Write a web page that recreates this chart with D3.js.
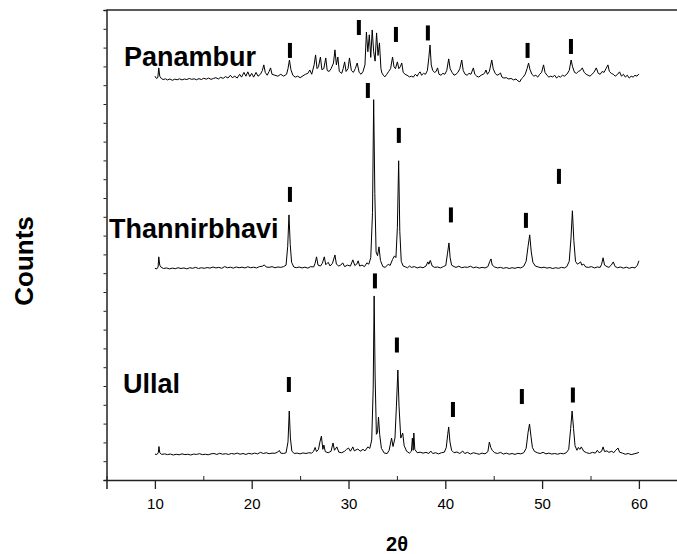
<!DOCTYPE html>
<html>
<head>
<meta charset="utf-8">
<script src="https://cdn.jsdelivr.net/npm/d3@7"></script>
<style>
html,body{margin:0;padding:0;background:#fff;}
svg{display:block;}
text{font-family:"Liberation Sans",Arial,Helvetica,sans-serif;}
</style>
</head>
<body>
<svg id="chart" width="677" height="554"></svg>
<script>
// ---------------- DATA ----------------
const seriesNames = ["Ullal", "Thannirbhavi", "Panambur"];
const seriesOffsets = [133, 1123, 2128];   // vertical stacking offsets (counts)

const ullal = [[10.0,5],[10.2,2],[10.35,12],[10.42,45],[10.5,12],[10.7,3],[11.0,6],[11.3,2],[11.6,5],[11.9,0],[12.2,4],[12.5,1],[12.8,6],[13.1,2],[13.4,4],[13.7,0],[14.0,5],[14.3,3],[14.6,7],[14.9,2],[15.2,4],[15.5,1],[15.8,6],[16.1,8],[16.4,3],[16.7,9],[17.0,4],[17.3,7],[17.6,3],[17.9,8],[18.2,5],[18.5,10],[18.8,4],[19.1,8],[19.4,3],[19.7,9],[20.0,5],[20.3,10],[20.6,6],[20.9,14],[21.2,8],[21.5,12],[21.8,7],[22.1,10],[22.4,9],[22.7,16],[22.85,24],[23.0,10],[23.3,8],[23.55,12],[23.75,70],[23.88,234],[24.0,90],[24.15,20],[24.4,8],[24.7,10],[25.0,6],[25.3,11],[25.6,8],[25.9,12],[26.2,10],[26.4,20],[26.55,40],[26.7,18],[26.9,30],[27.05,70],[27.2,100],[27.35,30],[27.46,53],[27.6,18],[27.9,12],[28.2,20],[28.4,64],[28.55,25],[28.8,43],[29.0,15],[29.3,12],[29.6,20],[29.8,30],[30.0,37],[30.2,20],[30.45,43],[30.6,22],[30.97,32],[31.2,20],[31.5,30],[31.7,22],[32.0,43],[32.2,35],[32.4,80],[32.55,350],[32.65,846],[32.75,420],[32.88,110],[33.0,120],[33.1,202],[33.22,110],[33.4,35],[33.7,10],[34.0,8],[34.2,25],[34.45,90],[34.6,45],[34.8,90],[34.95,260],[35.1,452],[35.22,260],[35.4,90],[35.6,117],[35.75,50],[36.0,20],[36.3,10],[36.5,20],[36.6,90],[36.68,25],[36.75,117],[36.85,30],[37.1,12],[37.4,15],[37.7,10],[38.0,14],[38.3,8],[38.5,21],[38.7,8],[39.0,12],[39.3,6],[39.6,12],[39.9,15],[40.1,40],[40.25,110],[40.35,149],[40.48,70],[40.65,25],[40.9,12],[41.2,16],[41.5,8],[41.8,21],[42.0,8],[42.3,14],[42.6,5],[42.9,12],[43.2,8],[43.5,4],[43.8,10],[44.1,6],[44.4,18],[44.55,69],[44.7,40],[44.85,25],[45.1,12],[45.4,8],[45.7,14],[46.0,5],[46.3,10],[46.6,4],[46.9,8],[47.2,3],[47.5,9],[47.8,6],[48.1,12],[48.35,35],[48.55,120],[48.7,165],[48.85,100],[49.0,40],[49.2,20],[49.5,12],[49.8,8],[50.1,14],[50.4,6],[50.7,10],[51.0,5],[51.3,8],[51.6,4],[51.9,9],[52.2,6],[52.5,12],[52.75,30],[52.95,140],[53.1,234],[53.25,140],[53.4,50],[53.6,25],[53.75,40],[53.9,30],[54.05,43],[54.3,20],[54.6,12],[54.9,8],[55.2,14],[55.5,10],[55.7,25],[55.9,12],[56.15,20],[56.3,43],[56.45,18],[56.7,22],[56.9,14],[57.2,20],[57.4,12],[57.6,25],[57.85,37],[58.0,15],[58.3,10],[58.6,4],[58.9,8],[59.2,2],[59.5,6],[59.8,10],[60.0,14]];

const thannirbhavi = [[10.0,3],[10.2,0],[10.33,10],[10.4,64],[10.5,20],[10.65,8],[10.9,2],[11.2,5],[11.5,0],[11.8,4],[12.1,1],[12.4,6],[12.7,2],[13.0,5],[13.3,0],[13.6,6],[13.9,3],[14.2,8],[14.5,2],[14.8,6],[15.1,3],[15.4,7],[15.7,4],[16.0,10],[16.3,5],[16.6,8],[16.9,3],[17.2,12],[17.5,6],[17.8,9],[18.1,4],[18.4,10],[18.7,6],[19.0,9],[19.3,5],[19.6,11],[19.9,6],[20.2,9],[20.5,5],[20.8,12],[21.1,14],[21.3,21],[21.5,10],[21.8,8],[22.1,12],[22.4,6],[22.7,10],[23.0,8],[23.3,12],[23.55,20],[23.72,120],[23.85,287],[23.98,130],[24.12,35],[24.35,10],[24.6,6],[24.9,10],[25.2,5],[25.5,9],[25.8,4],[26.1,12],[26.4,10],[26.55,30],[26.7,64],[26.85,20],[27.1,15],[27.3,30],[27.5,64],[27.65,22],[27.9,35],[28.1,15],[28.35,30],[28.6,74],[28.75,25],[29.0,15],[29.2,20],[29.4,32],[29.6,12],[29.9,20],[30.2,15],[30.45,48],[30.65,18],[30.85,25],[31.0,43],[31.15,15],[31.4,20],[31.65,12],[31.9,32],[32.1,25],[32.3,60],[32.48,300],[32.6,900],[32.72,400],[32.85,90],[33.0,70],[33.15,117],[33.3,45],[33.55,12],[33.8,8],[34.1,25],[34.3,18],[34.55,50],[34.75,69],[34.9,60],[35.05,220],[35.18,575],[35.3,200],[35.45,40],[35.65,15],[35.9,10],[36.1,6],[36.3,15],[36.5,8],[36.8,12],[37.1,5],[37.4,10],[37.7,6],[38.0,15],[38.2,37],[38.3,25],[38.45,45],[38.65,15],[38.9,8],[39.2,10],[39.5,5],[39.8,12],[40.05,18],[40.22,80],[40.38,138],[40.5,60],[40.65,20],[40.9,12],[41.1,8],[41.4,14],[41.7,6],[42.0,10],[42.3,8],[42.6,14],[42.9,6],[43.2,10],[43.5,4],[43.8,8],[44.1,5],[44.4,12],[44.6,40],[44.72,53],[44.85,20],[45.1,10],[45.4,5],[45.7,8],[46.0,3],[46.3,7],[46.6,2],[46.9,6],[47.2,3],[47.5,8],[47.8,5],[48.1,14],[48.35,40],[48.55,120],[48.72,181],[48.88,90],[49.05,35],[49.3,15],[49.6,10],[49.9,6],[50.2,9],[50.5,4],[50.8,7],[51.1,2],[51.4,6],[51.7,3],[52.0,8],[52.3,5],[52.55,12],[52.8,40],[52.98,160],[53.13,309],[53.28,150],[53.45,40],[53.65,25],[53.8,30],[53.98,37],[54.1,20],[54.3,25],[54.5,10],[54.8,8],[55.1,12],[55.4,5],[55.7,10],[56.0,8],[56.15,25],[56.3,59],[56.45,20],[56.7,12],[56.9,8],[57.15,20],[57.35,37],[57.55,12],[57.8,6],[58.1,10],[58.4,4],[58.7,9],[59.0,3],[59.3,8],[59.6,5],[59.85,20],[60.0,43]];

const panambur = [[10.0,20],[10.15,8],[10.3,12],[10.4,64],[10.5,20],[10.65,8],[10.85,2],[11.1,6],[11.3,0],[11.55,5],[11.8,-2],[12.05,4],[12.3,1],[12.55,6],[12.8,0],[13.05,5],[13.3,2],[13.55,8],[13.8,3],[14.05,6],[14.3,1],[14.55,7],[14.8,2],[15.05,9],[15.3,4],[15.55,10],[15.8,3],[16.05,8],[16.3,12],[16.55,5],[16.8,14],[17.05,8],[17.3,18],[17.55,10],[17.8,25],[18.0,12],[18.25,20],[18.5,10],[18.75,30],[18.95,15],[19.2,40],[19.4,20],[19.6,43],[19.8,18],[20.0,35],[20.2,15],[20.45,40],[20.65,20],[20.9,30],[21.1,50],[21.25,80],[21.4,40],[21.6,25],[21.8,45],[21.95,64],[22.1,30],[22.4,25],[22.7,20],[23.0,30],[23.3,20],[23.6,30],[23.75,60],[23.9,106],[24.05,55],[24.25,25],[24.5,15],[24.75,20],[25.0,12],[25.3,22],[25.55,30],[25.8,35],[26.0,53],[26.2,30],[26.45,80],[26.6,133],[26.75,60],[26.9,70],[27.1,122],[27.25,55],[27.45,60],[27.65,117],[27.8,50],[28.0,45],[28.2,60],[28.45,90],[28.6,160],[28.75,80],[28.9,122],[29.05,45],[29.3,35],[29.45,60],[29.6,96],[29.75,45],[29.95,60],[30.1,117],[30.3,50],[30.5,40],[30.7,60],[30.9,90],[31.1,40],[31.3,30],[31.5,45],[31.7,80],[31.85,255],[32.0,150],[32.15,240],[32.3,120],[32.45,266],[32.6,150],[32.75,100],[32.9,250],[33.05,130],[33.2,197],[33.35,60],[33.45,37],[33.6,25],[33.75,16],[33.95,30],[34.15,45],[34.35,60],[34.55,122],[34.7,70],[34.85,60],[35.05,96],[35.2,60],[35.35,70],[35.5,90],[35.65,40],[35.85,30],[36.05,25],[36.3,16],[36.5,20],[36.7,15],[36.9,30],[37.1,20],[37.25,35],[37.4,43],[37.55,25],[37.75,35],[37.95,30],[38.15,50],[38.3,120],[38.42,186],[38.55,80],[38.7,50],[38.9,40],[39.05,45],[39.2,64],[39.35,30],[39.55,25],[39.75,35],[39.95,30],[40.15,50],[40.35,112],[40.5,60],[40.7,40],[40.9,25],[41.1,30],[41.3,40],[41.5,60],[41.7,106],[41.85,50],[42.05,30],[42.25,25],[42.45,35],[42.65,30],[42.9,64],[43.05,30],[43.25,20],[43.45,15],[43.7,25],[43.9,30],[44.05,35],[44.2,53],[44.35,30],[44.55,45],[44.8,106],[44.95,60],[45.15,35],[45.35,25],[45.55,30],[45.7,37],[45.85,15],[46.05,10],[46.3,12],[46.55,5],[46.8,8],[47.05,0],[47.3,5],[47.5,-5],[47.7,-10],[47.85,5],[48.05,15],[48.25,30],[48.45,60],[48.6,90],[48.75,55],[48.95,30],[49.15,20],[49.35,25],[49.55,15],[49.75,30],[49.95,40],[50.15,80],[50.3,40],[50.5,25],[50.7,15],[50.9,20],[51.1,16],[51.3,25],[51.5,10],[51.7,20],[51.9,15],[52.1,25],[52.3,20],[52.55,30],[52.8,50],[53.0,106],[53.15,70],[53.35,40],[53.55,35],[53.75,45],[53.95,50],[54.15,64],[54.35,40],[54.55,30],[54.75,25],[54.95,20],[55.15,30],[55.35,40],[55.6,64],[55.8,35],[56.0,30],[56.2,45],[56.4,40],[56.6,60],[56.8,80],[56.95,45],[57.15,35],[57.35,30],[57.55,20],[57.8,30],[58.0,43],[58.2,20],[58.4,30],[58.6,15],[58.8,25],[59.0,10],[59.2,20],[59.4,15],[59.6,25],[59.8,20],[60.0,32]];

// peak markers: [2θ, counts at marker centre]
const ullalMarkers = [[23.84,508],[32.73,1059],[35.0,718],[40.79,375],[47.91,444],[53.18,452]];
const thannirbhaviMarkers = [[23.95,1519],[32.0,2072],[35.2,1833],[40.58,1410],[48.33,1381],[51.74,1615]];
const panamburMarkers = [[23.95,2285],[31.07,2407],[34.9,2370],[38.2,2378],[48.5,2285],[52.98,2306]];

const xMajorTicks = [10, 20, 30, 40, 50, 60];
const xMinorTicks = [5, 15, 25, 35, 45, 55, 65];
const xDomain = [5, 65];
const yDomain = [0, 2500];
const yTicks = d3.range(0, 2501, 100);

// ---------------- DRAW ----------------
const svg = d3.select("#chart");
const x = d3.scaleLinear().domain(xDomain).range([106.5, 687.3]);
const y = d3.scaleLinear().domain(yDomain).range([480, 10]);

const series = [ullal, thannirbhavi, panambur];
const markers = [ullalMarkers, thannirbhaviMarkers, panamburMarkers];

const line = d3.line().x(d => x(d[0])).y(d => y(d[1]));

series.forEach((s, i) => {
  const off = seriesOffsets[i];
  svg.append("path")
    .datum(s.map(d => [d[0], d[1] + off]))
    .attr("d", line)
    .attr("fill", "none")
    .attr("stroke", "#000")
    .attr("stroke-width", 1)
    .attr("stroke-linejoin", "round");
});

markers.forEach(m => {
  svg.selectAll(null).data(m).enter().append("rect")
    .attr("x", d => x(d[0]) - 2)
    .attr("y", d => y(d[1]) - 7.5)
    .attr("width", 4)
    .attr("height", 15)
    .attr("fill", "#000");
});

// Axes
const axisColor = "#222";
const xAxis = svg.append("g").attr("transform", "translate(0,480)")
  .call(d3.axisBottom(x).tickValues(xMajorTicks).tickSize(9).tickPadding(9).tickFormat(d3.format("d")));
xAxis.select(".domain").attr("stroke", axisColor).attr("stroke-width", 1.5);
xAxis.selectAll(".tick line").attr("stroke", axisColor).attr("stroke-width", 1.3);
xAxis.selectAll(".tick text").attr("font-size", 15).attr("font-family", "Liberation Sans, Arial, sans-serif").attr("fill", "#000");

const xMinor = svg.append("g").attr("transform", "translate(0,480)")
  .call(d3.axisBottom(x).tickValues(xMinorTicks).tickSize(-4).tickFormat(""));
xMinor.select(".domain").remove();
xMinor.selectAll(".tick line").attr("stroke", axisColor).attr("stroke-width", 1);

const yAxis = svg.append("g").attr("transform", "translate(106.5,0)")
  .call(d3.axisLeft(y).tickValues(yTicks).tickSize(3).tickFormat(""));
yAxis.select(".domain").attr("stroke", axisColor).attr("stroke-width", 1.5);
yAxis.selectAll(".tick line").attr("stroke", axisColor).attr("stroke-width", 1);

// top / right frame lines
svg.append("line")
  .attr("x1", x(xDomain[0])).attr("x2", x(xDomain[1]))
  .attr("y1", y(yDomain[1])).attr("y2", y(yDomain[1]))
  .attr("stroke", axisColor).attr("stroke-width", 1.5);
svg.append("line")
  .attr("x1", x(xDomain[1])).attr("x2", x(xDomain[1]))
  .attr("y1", y(yDomain[0])).attr("y2", y(yDomain[1]))
  .attr("stroke", axisColor).attr("stroke-width", 1.5);

// Series labels
const labelPos = [[123, 393], [109, 238], [124, 66]];
seriesNames.forEach((n, i) => {
  svg.append("text")
    .attr("x", labelPos[i][0]).attr("y", labelPos[i][1])
    .attr("font-size", 27).attr("font-weight", "bold").attr("fill", "#000")
    .text(n);
});

// Axis titles
svg.append("text")
  .attr("transform", "translate(33,261) rotate(-90)")
  .attr("text-anchor", "middle")
  .attr("font-size", 26).attr("font-weight", "bold")
  .text("Counts");

svg.append("text")
  .attr("x", 397).attr("y", 551)
  .attr("text-anchor", "middle")
  .attr("font-size", 20).attr("font-weight", "bold")
  .text("2θ");
</script>
</body>
</html>
